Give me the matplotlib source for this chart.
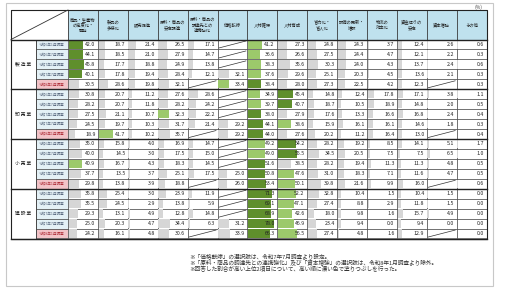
import numpy as np
import matplotlib
matplotlib.use("Agg")
import matplotlib.pyplot as plt
from matplotlib.patches import Rectangle

plt.rcParams['font.family'] = ['Noto Sans CJK JP', 'DejaVu Sans']

# column headers (items)
items = ["商品・生産物\nの高度化・\n開発", "製品の\n多様化", "販売促進", "原料・商品の\n安定調達",
         "原料・商品の\n調達先との\n連携強化", "価格転嫁", "人材確保", "人材育成",
         "省力化・\n省人化", "設備の更新・\n増設", "物流の\n効率化", "資金繰りの\n安定",
         "資本増強", "その他"]
groups = ["製 造 業", "卸 売 業", "小 売 業", "建 設 業"]
surveys = ["令和6年1月調査", "令和6年7月調査", "令和7年1月調査", "令和7年7月調査", "令和8年1月調査"]

N = np.nan
manufacturing = [
    [42.0, 18.7, 21.4, 26.5, 17.1, N, 41.2, 27.3, 24.8, 24.3, 3.7, 12.4, 2.6, 0.6],
    [44.1, 18.5, 21.0, 27.9, 14.7, N, 36.6, 26.6, 27.5, 24.4, 4.7, 12.1, 2.2, 0.3],
    [45.8, 17.7, 18.8, 24.9, 13.8, N, 38.3, 35.6, 30.3, 24.0, 4.3, 13.7, 2.4, 0.6],
    [40.1, 17.8, 19.4, 28.4, 12.1, 32.1, 37.6, 29.6, 25.1, 20.3, 4.5, 13.6, 2.1, 0.3],
    [30.5, 28.6, 19.8, 32.1, N, 33.4, 38.4, 28.0, 27.3, 22.5, 4.2, 12.3, N, 0.3],
]
wholesale = [
    [30.8, 20.7, 11.2, 27.6, 28.6, N, 34.9, 45.4, 14.8, 12.4, 17.8, 17.1, 3.8, 1.1],
    [28.2, 20.7, 11.8, 28.2, 24.2, N, 39.7, 40.7, 18.7, 10.5, 18.9, 14.8, 2.0, 0.5],
    [27.5, 21.1, 10.7, 32.3, 22.2, N, 38.0, 27.9, 17.6, 13.3, 16.6, 16.8, 2.4, 0.4],
    [24.5, 19.7, 10.3, 31.7, 21.4, 29.2, 44.1, 38.6, 15.9, 16.1, 16.1, 14.6, 1.8, 0.3],
    [18.9, 41.7, 10.2, 35.7, N, 29.2, 44.0, 27.6, 20.2, 11.2, 16.4, 13.0, N, 0.4],
]
retail = [
    [35.0, 15.8, 4.0, 16.9, 14.7, N, 49.2, 54.2, 28.2, 19.2, 8.5, 14.1, 5.1, 1.7],
    [40.0, 14.5, 3.0, 17.5, 15.0, N, 49.0, 55.5, 34.5, 20.5, 7.5, 7.5, 6.5, 1.0],
    [40.9, 16.7, 4.3, 18.3, 14.5, N, 51.6, 38.5, 28.2, 19.4, 11.3, 11.3, 4.8, 0.5],
    [37.7, 13.5, 3.7, 25.1, 17.5, 25.0, 50.8, 47.6, 31.0, 18.3, 7.1, 11.6, 4.7, 0.5],
    [29.8, 13.8, 3.9, 18.8, N, 26.0, 53.4, 50.1, 39.8, 21.6, 9.9, 16.0, N, 0.6],
]
construction = [
    [35.8, 25.4, 3.0, 23.9, 11.9, N, 71.3, 52.2, 32.8, 10.4, 1.5, 10.4, 1.5, 0.0],
    [35.5, 24.5, 2.9, 13.8, 5.9, N, 69.1, 47.1, 27.4, 8.8, 2.9, 11.8, 1.5, 0.0],
    [29.3, 13.1, 4.9, 12.8, 14.8, N, 68.9, 42.6, 18.0, 9.8, 1.6, 15.7, 4.9, 0.0],
    [25.0, 20.3, 4.7, 34.4, 6.3, 31.2, 78.0, 46.9, 23.4, 9.4, 0.0, 9.4, 0.0, 0.0],
    [24.2, 16.1, 4.8, 30.6, N, 33.9, 66.3, 56.5, 27.4, 4.8, 1.6, 12.9, N, 0.0],
]

notes = ["※「価格転嫁」の選択肢は、令和7年7月調査より設定。",
         "※「原料・商品の調達先との連携強化」及び「資本増強」の選択肢は、令和8年1月調査より除外。",
         "※回答した割合が高い上位2項目について、高い順に濃い色で塗りつぶしを行った。"]

data = np.array(manufacturing + wholesale + retail + construction)
nrows, ncols = data.shape

# layout in pixel units
x0, xlab, xdat, cw = 11, 36, 68, 29.9
y0, ydat, rh = 10, 39.5, 9.95
xend = xdat + ncols * cw
yend = ydat + nrows * rh

fig = plt.figure(figsize=(5.05, 2.89), dpi=100)
ax = fig.add_axes([0, 0, 1, 1])
ax.set_xlim(0, 505)
ax.set_ylim(289, 0)
ax.axis('off')

# page frame
ax.add_patch(Rectangle((6, 3), 487, 283, fill=False, ec='#c8c8c8', lw=0.8))
ax.text(xend - 4, 7, "(%)", fontsize=3.5, ha='right', va='center', color='#444')

# header
ax.add_patch(Rectangle((x0, y0), xdat - x0, ydat - y0, fc='white', ec='#333', lw=0.6))
ax.plot([x0, xdat], [ydat, y0], color='#333', lw=0.6)
for j, name in enumerate(items):
    ax.add_patch(Rectangle((xdat + j * cw, y0), cw, ydat - y0, fc='#bfe1ee', ec='#333', lw=0.5))
    ax.text(xdat + (j + 0.5) * cw, (y0 + ydat) / 2, name, fontsize=3.1, ha='center', va='center',
            linespacing=1.1, color='#222')

top1, top2 = '#5f8f2c', '#9cc96b'
vmax = 85.0
for i in range(nrows):
    y = ydat + i * rh
    last = (i % 5 == 4)
    ax.add_patch(Rectangle((xlab, y), xdat - xlab, rh, fc='#f2c4c8' if last else '#e4f1f6',
                           ec='#333', lw=0.4))
    ax.text((xlab + xdat) / 2, y + rh / 2, surveys[i % 5], fontsize=2.6, ha='center', va='center',
            color='#b0303a' if last else '#5a6a80')
    row = data[i]
    order = np.argsort(np.where(np.isnan(row), -1, row))[::-1]
    for j in range(ncols):
        x = xdat + j * cw
        v = row[j]
        ax.add_patch(Rectangle((x, y), cw, rh, fc='white', ec='#333', lw=0.4))
        if np.isnan(v):
            ax.plot([x + 1.5, x + cw - 1.5], [y + rh - 1.5, y + 1.5], color='#333', lw=0.5)
            continue
        col = top1 if j == order[0] else top2 if j == order[1] else '#d6d6d6'
        ax.add_patch(Rectangle((x + 0.6, y + 0.8), (cw - 1.2) * v / vmax, rh - 1.6, fc=col, ec='none'))
        ax.text(x + cw - 2.5, y + rh / 2, f"{v:.1f}", fontsize=3.8, ha='right', va='center', color='#222')

# group column and thick separators
for g, name in enumerate(groups):
    ya = ydat + g * 5 * rh
    ax.add_patch(Rectangle((x0, ya), xlab - x0, 5 * rh, fc='white', ec='#333', lw=0.6))
    ax.text((x0 + xlab) / 2, ya + 2.5 * rh, name, fontsize=3.4, ha='center', va='center', color='#222')
    ax.plot([x0, xend], [ya, ya], color='#222', lw=1.0)
ax.plot([x0, xend], [yend, yend], color='#222', lw=1.0)
ax.add_patch(Rectangle((x0, y0), xend - x0, yend - y0, fill=False, ec='#222', lw=0.8))

for k, t in enumerate(notes):
    ax.text(189, 256 + k * 6.6, t, fontsize=4.1, ha='left', va='center', color='#333')

fig.savefig("out.png", dpi=100)
